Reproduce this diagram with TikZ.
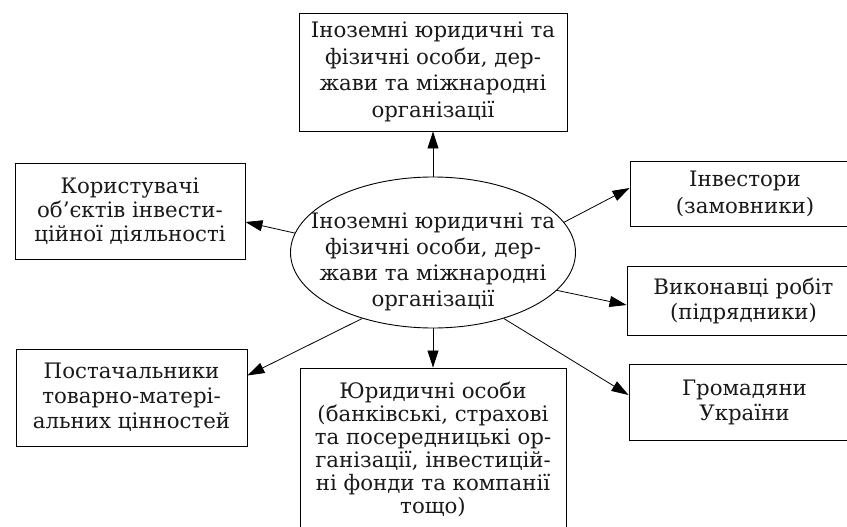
\documentclass[tikz,border=0pt]{standalone}
\usepackage{fontspec}
\setmainfont{DejaVu Serif}
\usetikzlibrary{arrows.meta,shapes.geometric,calc}
\begin{document}
\begin{tikzpicture}[x=1pt,y=-1pt,
  box/.style={draw=black,line width=0.9pt,rectangle,inner sep=0pt,align=center,text=black!90,font=\fontsize{21.3}{25}\selectfont},
  conn/.style={line width=0.8pt,-{Triangle[length=17pt,width=11pt]}},
]
\useasboundingbox (0,0) rectangle (847,527);
\clip (0,0) rectangle (847,527);

\node[box,minimum width=268pt,minimum height=118pt,font=\fontsize{21.3}{26.5}\selectfont] (top) at (433,72)
  {Іноземні юридичні та\\фізичні особи, дер-\\жави та міжнародні\\організації};
\node[box,minimum width=230pt,minimum height=96pt,font=\fontsize{21.3}{24}\selectfont] (kor) at (130,211)
  {Користувачі\\об’єктів інвести-\\ційної діяльності};
\node[box,minimum width=231pt,minimum height=97pt] (post) at (131.5,397.5)
  {Постачальники\\товарно-матері-\\альних цінностей};
\node[box,minimum width=266pt,minimum height=163pt,font=\fontsize{21.3}{23}\selectfont] (yur) at (433,449.5)
  {Юридичні особи\\(банківські, страхові\\та посередницькі ор-\\ганізації, інвестицій-\\ні фонди та компанії\\тощо)};
\node[box,minimum width=230pt,minimum height=65pt,font=\fontsize{21.3}{26.5}\selectfont] (inv) at (745,194)
  {Інвестори\\(замовники)};
\node[box,minimum width=233pt,minimum height=69pt] (vyk) at (743.5,301)
  {Виконавці робіт\\(підрядники)};
\node[box,minimum width=231pt,minimum height=76pt] (grom) at (744.5,402)
  {Громадяни\\України};

\node[ellipse,draw=black,line width=0.9pt,minimum width=285pt,minimum height=151pt,inner sep=0pt] (ell) at (433,252.5) {};
\node[align=center,inner sep=0pt,text=black!90,font=\fontsize{21.3}{26}\selectfont] (ellt) at (433,261.5)
  {Іноземні юридичні та\\фізичні особи, дер-\\жави та міжнародні\\організації};

\draw[conn] (ell.north) -- (top.south);
\draw[conn] (ell.172) -- ($(kor.east)+(0,11)$);
\draw[conn] (ell.13) -- ($(inv.west)+(0,-6)$);
\draw[conn] (ell.343) -- ($(vyk.west)+(0,4)$);
\draw[conn] (ell.317) -- ($(grom.west)+(0,-7)$);
\draw[conn] (ell.223) -- ($(post.east)+(0,-22)$);
\draw[conn] (ell.south) -- (yur.north);
\end{tikzpicture}
\end{document}
